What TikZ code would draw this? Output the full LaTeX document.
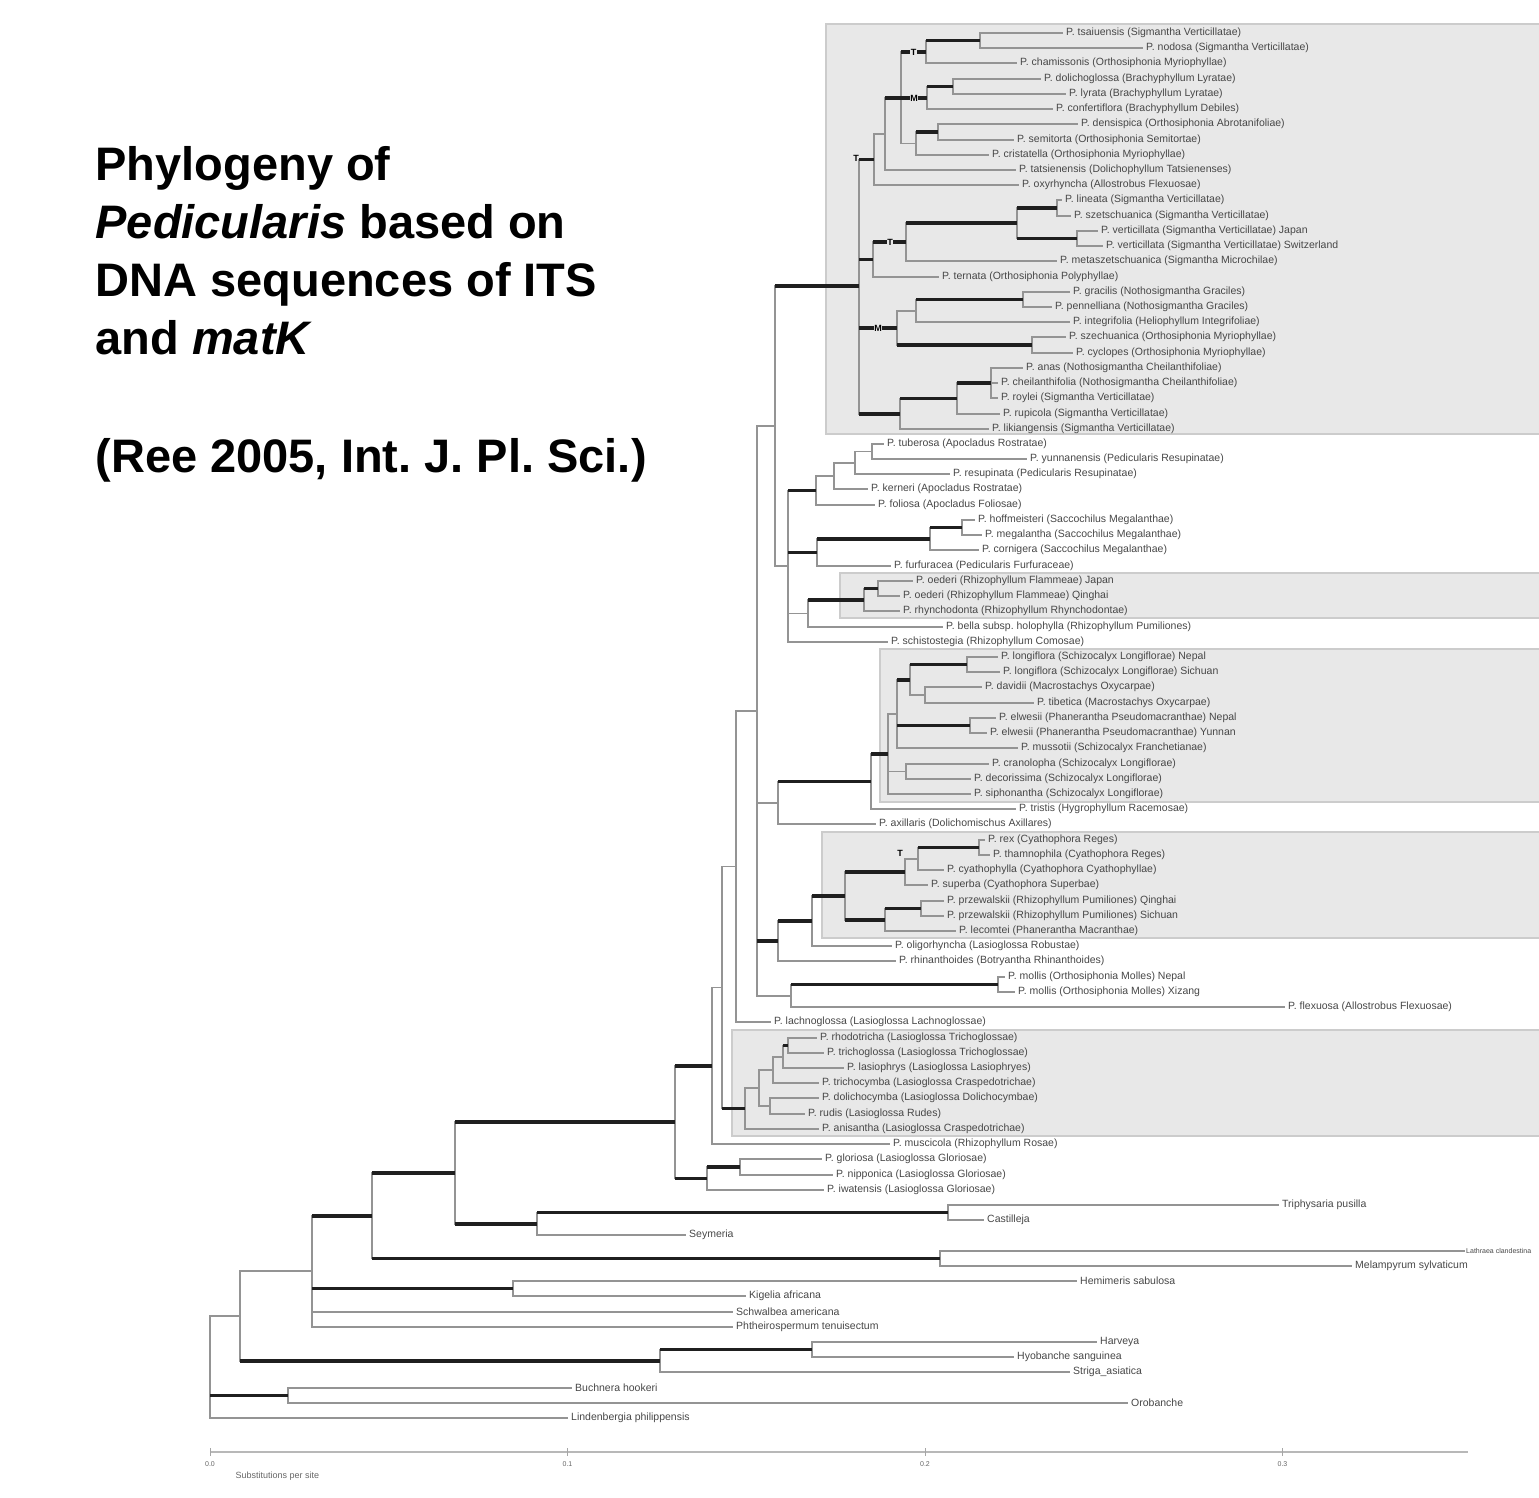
\documentclass[tikz,border=0pt]{standalone}
\usepackage{fontspec}
\setmainfont{Liberation Sans}
\usepackage{tikz}
\frenchspacing
\newcommand{\hbr}[3][branch]{\draw[#1] (#2 |- #3) -- (#3);}
\newcommand{\vbr}[3]{\draw[branch] (#1 |- #2) -- (#1 |- #3);}

\begin{document}
\begin{tikzpicture}[x=1pt,y=-1pt,
  branch/.style={draw=black!42,line width=1.3pt,line cap=rect},
  strong/.style={draw=black!88,line width=3.4pt},
  leaf/.style={anchor=west,inner xsep=4pt,inner ysep=1pt,text=black!72,font=\fontsize{10.5}{12}\selectfont},
  clade/.style={fill=black!9,draw=black!20,line width=1.5pt},
  supp/.style={fill=black!9,inner sep=0.6pt,font=\bfseries\fontsize{9}{10}\selectfont},
  headline/.style={anchor=base west,font=\bfseries\fontsize{47}{56}\selectfont},
  tick/.style={text=black!60,font=\fontsize{7}{8}\selectfont}]
\useasboundingbox (0,0) rectangle (1539,1497);
\draw[clade] (826,24) rectangle (1545,434);
\draw[clade] (840,573) rectangle (1545,618);
\draw[clade] (880,649) rectangle (1545,802);
\draw[clade] (822,832) rectangle (1545,938);
\draw[clade] (732,1030) rectangle (1545,1136);

\node[headline] (ttl1) at (92,180) {Phylogeny of};
\node[headline] (ttl2) at (92,238) {\textit{Pedicularis} based on};
\node[headline] (ttl3) at (92,296) {DNA sequences of ITS};
\node[headline] (ttl4) at (92,354) {and \textit{matK}};
\node[headline] (ttl5) at (92,472) {(Ree 2005, Int. J. Pl. Sci.)};

\node[leaf] (p00) at (1062,33) {P. tsaiuensis (Sigmantha Verticillatae)};
\node[leaf] (p01) at (1142,48) {P. nodosa (Sigmantha Verticillatae)};
\node[leaf] (p02) at (1016,63) {P. chamissonis (Orthosiphonia Myriophyllae)};
\node[leaf] (p03) at (1040,79) {P. dolichoglossa (Brachyphyllum Lyratae)};
\node[leaf] (p04) at (1065,94) {P. lyrata (Brachyphyllum Lyratae)};
\node[leaf] (p05) at (1052,109) {P. confertiflora (Brachyphyllum Debiles)};
\node[leaf] (p06) at (1077,124) {P. densispica (Orthosiphonia Abrotanifoliae)};
\node[leaf] (p07) at (1013,140) {P. semitorta (Orthosiphonia Semitortae)};
\node[leaf] (p08) at (988,155) {P. cristatella (Orthosiphonia Myriophyllae)};
\node[leaf] (p09) at (1015,170) {P. tatsienensis (Dolichophyllum Tatsienenses)};
\node[leaf] (p10) at (1018,185) {P. oxyrhyncha (Allostrobus Flexuosae)};
\node[leaf] (p11) at (1061,200) {P. lineata (Sigmantha Verticillatae)};
\node[leaf] (p12) at (1070,216) {P. szetschuanica (Sigmantha Verticillatae)};
\node[leaf] (p13) at (1097,231) {P. verticillata (Sigmantha Verticillatae) Japan};
\node[leaf] (p14) at (1102,246) {P. verticillata (Sigmantha Verticillatae) Switzerland};
\node[leaf] (p15) at (1056,261) {P. metaszetschuanica (Sigmantha Microchilae)};
\node[leaf] (p16) at (938,277) {P. ternata (Orthosiphonia Polyphyllae)};
\node[leaf] (p17) at (1069,292) {P. gracilis (Nothosigmantha Graciles)};
\node[leaf] (p18) at (1051,307) {P. pennelliana (Nothosigmantha Graciles)};
\node[leaf] (p19) at (1069,322) {P. integrifolia (Heliophyllum Integrifoliae)};
\node[leaf] (p20) at (1065,337) {P. szechuanica (Orthosiphonia Myriophyllae)};
\node[leaf] (p21) at (1072,353) {P. cyclopes (Orthosiphonia Myriophyllae)};
\node[leaf] (p22) at (1022,368) {P. anas (Nothosigmantha Cheilanthifoliae)};
\node[leaf] (p23) at (997,383) {P. cheilanthifolia (Nothosigmantha Cheilanthifoliae)};
\node[leaf] (p24) at (997,398) {P. roylei (Sigmantha Verticillatae)};
\node[leaf] (p25) at (999,414) {P. rupicola (Sigmantha Verticillatae)};
\node[leaf] (p26) at (988,429) {P. likiangensis (Sigmantha Verticillatae)};
\node[leaf] (p27) at (883,444) {P. tuberosa (Apocladus Rostratae)};
\node[leaf] (p28) at (1026,459) {P. yunnanensis (Pedicularis Resupinatae)};
\node[leaf] (p29) at (949,474) {P. resupinata (Pedicularis Resupinatae)};
\node[leaf] (p30) at (867,489) {P. kerneri (Apocladus Rostratae)};
\node[leaf] (p31) at (874,505) {P. foliosa (Apocladus Foliosae)};
\node[leaf] (p32) at (974,520) {P. hoffmeisteri (Saccochilus Megalanthae)};
\node[leaf] (p33) at (981,535) {P. megalantha (Saccochilus Megalanthae)};
\node[leaf] (p34) at (978,550) {P. cornigera (Saccochilus Megalanthae)};
\node[leaf] (p35) at (890,566) {P. furfuracea (Pedicularis Furfuraceae)};
\node[leaf] (p36) at (912,581) {P. oederi (Rhizophyllum Flammeae) Japan};
\node[leaf] (p37) at (899,596) {P. oederi (Rhizophyllum Flammeae) Qinghai};
\node[leaf] (p38) at (899,611) {P. rhynchodonta (Rhizophyllum Rhynchodontae)};
\node[leaf] (p39) at (942,627) {P. bella subsp. holophylla (Rhizophyllum Pumiliones)};
\node[leaf] (p40) at (887,642) {P. schistostegia (Rhizophyllum Comosae)};
\node[leaf] (p41) at (997,657) {P. longiflora (Schizocalyx Longiflorae) Nepal};
\node[leaf] (p42) at (999,672) {P. longiflora (Schizocalyx Longiflorae) Sichuan};
\node[leaf] (p43) at (981,687) {P. davidii (Macrostachys Oxycarpae)};
\node[leaf] (p44) at (1033,703) {P. tibetica (Macrostachys Oxycarpae)};
\node[leaf] (p45) at (995,718) {P. elwesii (Phanerantha Pseudomacranthae) Nepal};
\node[leaf] (p46) at (986,733) {P. elwesii (Phanerantha Pseudomacranthae) Yunnan};
\node[leaf] (p47) at (1017,748) {P. mussotii (Schizocalyx Franchetianae)};
\node[leaf] (p48) at (988,764) {P. cranolopha (Schizocalyx Longiflorae)};
\node[leaf] (p49) at (970,779) {P. decorissima (Schizocalyx Longiflorae)};
\node[leaf] (p50) at (970,794) {P. siphonantha (Schizocalyx Longiflorae)};
\node[leaf] (p51) at (1015,809) {P. tristis (Hygrophyllum Racemosae)};
\node[leaf] (p52) at (875,824) {P. axillaris (Dolichomischus Axillares)};
\node[leaf] (p53) at (984,840) {P. rex (Cyathophora Reges)};
\node[leaf] (p54) at (989,855) {P. thamnophila (Cyathophora Reges)};
\node[leaf] (p55) at (943,870) {P. cyathophylla (Cyathophora Cyathophyllae)};
\node[leaf] (p56) at (927,885) {P. superba (Cyathophora Superbae)};
\node[leaf] (p57) at (943,901) {P. przewalskii (Rhizophyllum Pumiliones) Qinghai};
\node[leaf] (p58) at (943,916) {P. przewalskii (Rhizophyllum Pumiliones) Sichuan};
\node[leaf] (p59) at (955,931) {P. lecomtei (Phanerantha Macranthae)};
\node[leaf] (p60) at (891,946) {P. oligorhyncha (Lasioglossa Robustae)};
\node[leaf] (p61) at (895,961) {P. rhinanthoides (Botryantha Rhinanthoides)};
\node[leaf] (p62) at (1004,977) {P. mollis (Orthosiphonia Molles) Nepal};
\node[leaf] (p63) at (1014,992) {P. mollis (Orthosiphonia Molles) Xizang};
\node[leaf] (p64) at (1284,1007) {P. flexuosa (Allostrobus Flexuosae)};
\node[leaf] (p65) at (770,1022) {P. lachnoglossa (Lasioglossa Lachnoglossae)};
\node[leaf] (p66) at (816,1038) {P. rhodotricha (Lasioglossa Trichoglossae)};
\node[leaf] (p67) at (823,1053) {P. trichoglossa (Lasioglossa Trichoglossae)};
\node[leaf] (p68) at (843,1068) {P. lasiophrys (Lasioglossa Lasiophryes)};
\node[leaf] (p69) at (818,1083) {P. trichocymba (Lasioglossa Craspedotrichae)};
\node[leaf] (p70) at (818,1098) {P. dolichocymba (Lasioglossa Dolichocymbae)};
\node[leaf] (p71) at (804,1114) {P. rudis (Lasioglossa Rudes)};
\node[leaf] (p72) at (818,1129) {P. anisantha (Lasioglossa Craspedotrichae)};
\node[leaf] (p73) at (889,1144) {P. muscicola (Rhizophyllum Rosae)};
\node[leaf] (p74) at (821,1159) {P. gloriosa (Lasioglossa Gloriosae)};
\node[leaf] (p75) at (832,1175) {P. nipponica (Lasioglossa Gloriosae)};
\node[leaf] (p76) at (823,1190) {P. iwatensis (Lasioglossa Gloriosae)};
\node[leaf] (p77) at (1278,1205) {Triphysaria pusilla};
\node[leaf] (p78) at (983,1220) {Castilleja};
\node[leaf] (p79) at (685,1235) {Seymeria};
\node[leaf,inner xsep=2pt,font=\fontsize{7}{8}\selectfont] (p80) at (1464,1251) {Lathraea clandestina};
\node[leaf] (p81) at (1351,1266) {Melampyrum sylvaticum};
\node[leaf] (p82) at (1076,1281) {Hemimeris sabulosa};
\node[leaf] (p83) at (745,1296) {Kigelia africana};
\node[leaf] (p84) at (732,1312) {Schwalbea americana};
\node[leaf] (p85) at (732,1327) {Phtheirospermum tenuisectum};
\node[leaf] (p86) at (1096,1342) {Harveya};
\node[leaf] (p87) at (1013,1357) {Hyobanche sanguinea};
\node[leaf] (p88) at (1069,1372) {Striga\_asiatica};
\node[leaf] (p89) at (571,1388) {Buchnera hookeri};
\node[leaf] (p90) at (1127,1403) {Orobanche};
\node[leaf] (p91) at (567,1418) {Lindenbergia philippensis};

\coordinate (t01) at (980,40.5);
\coordinate (t02) at (926,52);
\coordinate (t03) at (953,86.5);
\coordinate (t04) at (927,98);
\coordinate (t05) at (938,132);
\coordinate (t06) at (916,143.5);
\coordinate (t07) at (901,98);
\coordinate (t08) at (885,134);
\coordinate (t09) at (874,159.5);
\coordinate (t10) at (1057,208);
\coordinate (t11) at (1077,238.5);
\coordinate (t12) at (1017,223);
\coordinate (t13) at (906,242);
\coordinate (t14) at (873,259.5);
\coordinate (t15) at (1023,299.5);
\coordinate (t16) at (916,311);
\coordinate (t17) at (1032,345);
\coordinate (t18) at (897,328);
\coordinate (t19) at (991,383);
\coordinate (t20) at (957,398.5);
\coordinate (t21) at (900,414);
\coordinate (t22) at (859,286);
\coordinate (m01) at (872,451.5);
\coordinate (m02) at (855,463);
\coordinate (m03) at (834,476);
\coordinate (m04) at (816,490.5);
\coordinate (m05) at (962,527.5);
\coordinate (m06) at (930,539);
\coordinate (m07) at (817,552.5);
\coordinate (m08) at (878,588.5);
\coordinate (m09) at (864,600);
\coordinate (m10) at (808,613.5);
\coordinate (m11) at (788,566);
\coordinate (m12) at (775,426);
\coordinate (c01) at (967,664.5);
\coordinate (c02) at (925,695);
\coordinate (c03) at (910,680);
\coordinate (c04) at (970,725.5);
\coordinate (c05) at (897,714);
\coordinate (c06) at (906,771.5);
\coordinate (c07) at (888,754);
\coordinate (c08) at (871,781.5);
\coordinate (c09) at (778,803);
\coordinate (d01) at (979,847.5);
\coordinate (d02) at (918,859);
\coordinate (d03) at (905,872);
\coordinate (d04) at (921,908.5);
\coordinate (d05) at (885,920);
\coordinate (d06) at (845,896);
\coordinate (d07) at (812,921);
\coordinate (d08) at (778,941);
\coordinate (d09) at (998,984.5);
\coordinate (d10) at (791,996);
\coordinate (d11) at (757,711);
\coordinate (d12) at (736,866.5);
\coordinate (e01) at (788,1045.5);
\coordinate (e02) at (783,1057);
\coordinate (e03) at (773,1070);
\coordinate (e04) at (770,1106);
\coordinate (e05) at (759,1088);
\coordinate (e06) at (745,1108.5);
\coordinate (e07) at (722,987.5);
\coordinate (e08) at (712,1066);
\coordinate (e09) at (740,1167);
\coordinate (e10) at (707,1178.5);
\coordinate (e11) at (675,1122);
\coordinate (o01) at (948,1212.5);
\coordinate (o02) at (537,1224);
\coordinate (o03) at (455,1173);
\coordinate (o04) at (940,1258.5);
\coordinate (o05) at (372,1216);
\coordinate (o06) at (513,1288.5);
\coordinate (o07) at (312,1271);
\coordinate (o08) at (812,1349.5);
\coordinate (o09) at (660,1361);
\coordinate (o10) at (240,1316);
\coordinate (o11) at (288,1395.5);
\coordinate (root) at (210,1367);

\vbr{t01}{p00}{p01} \vbr{t02}{t01}{p02} \vbr{t03}{p03}{p04} \vbr{t04}{t03}{p05}
\vbr{t05}{p06}{p07} \vbr{t06}{t05}{p08} \vbr{t07}{t02}{t06} \vbr{t08}{t07}{p09}
\vbr{t09}{t08}{p10} \vbr{t10}{p11}{p12} \vbr{t11}{p13}{p14} \vbr{t12}{t10}{t11}
\vbr{t13}{t12}{p15} \vbr{t14}{t13}{p16} \vbr{t15}{p17}{p18} \vbr{t16}{t15}{p19}
\vbr{t17}{p20}{p21} \vbr{t18}{t16}{t17} \vbr{t19}{p22}{p24} \vbr{t20}{t19}{p25}
\vbr{t21}{t20}{p26} \vbr{t22}{t09}{t21}
\vbr{m01}{p27}{p28} \vbr{m02}{m01}{p29} \vbr{m03}{m02}{p30} \vbr{m04}{m03}{p31}
\vbr{m05}{p32}{p33} \vbr{m06}{m05}{p34} \vbr{m07}{m06}{p35} \vbr{m08}{p36}{p37}
\vbr{m09}{m08}{p38} \vbr{m10}{m09}{p39} \vbr{m11}{m04}{p40} \vbr{m12}{t22}{m11}
\vbr{c01}{p41}{p42} \vbr{c02}{p43}{p44} \vbr{c03}{c01}{c02} \vbr{c04}{p45}{p46}
\vbr{c05}{c03}{p47} \vbr{c06}{p48}{p49} \vbr{c07}{c05}{p50} \vbr{c08}{c07}{p51}
\vbr{c09}{c08}{p52}
\vbr{d01}{p53}{p54} \vbr{d02}{d01}{p55} \vbr{d03}{d02}{p56} \vbr{d04}{p57}{p58}
\vbr{d05}{d04}{p59} \vbr{d06}{d03}{d05} \vbr{d07}{d06}{p60} \vbr{d08}{d07}{p61}
\vbr{d09}{p62}{p63} \vbr{d10}{d09}{p64} \vbr{d11}{m12}{d10} \vbr{d12}{d11}{p65}
\vbr{e01}{p66}{p67} \vbr{e02}{e01}{p68} \vbr{e03}{e02}{p69} \vbr{e04}{p70}{p71}
\vbr{e05}{e03}{e04} \vbr{e06}{e05}{p72} \vbr{e07}{d12}{e06} \vbr{e08}{e07}{p73}
\vbr{e09}{p74}{p75} \vbr{e10}{e09}{p76} \vbr{e11}{e08}{e10}
\vbr{o01}{p77}{p78} \vbr{o02}{o01}{p79} \vbr{o03}{e11}{o02} \vbr{o04}{p80}{p81}
\vbr{o05}{o03}{o04} \vbr{o06}{p82}{p83} \vbr{o07}{o05}{p85} \vbr{o08}{p86}{p87}
\vbr{o09}{o08}{p88} \vbr{o10}{o07}{o09} \vbr{o11}{p89}{p90} \vbr{root}{o10}{p91}

\hbr{t01}{p00.west} \hbr{t01}{p01.west}
\hbr[strong]{t02}{t01} \hbr{t02}{p02.west}
\hbr{t03}{p03.west} \hbr{t03}{p04.west}
\hbr[strong]{t04}{t03} \hbr{t04}{p05.west}
\hbr{t05}{p06.west} \hbr{t05}{p07.west}
\hbr[strong]{t06}{t05} \hbr{t06}{p08.west}
\hbr[strong]{t07}{t02} \hbr[strong]{t07}{t04} \hbr{t07}{t06}
\hbr[strong]{t08}{t07} \hbr{t08}{p09.west}
\hbr{t09}{t08} \hbr{t09}{p10.west}
\hbr{t10}{p11.west} \hbr{t10}{p12.west}
\hbr{t11}{p13.west} \hbr{t11}{p14.west}
\hbr[strong]{t12}{t10} \hbr[strong]{t12}{t11}
\hbr[strong]{t13}{t12} \hbr{t13}{p15.west}
\hbr[strong]{t14}{t13} \hbr{t14}{p16.west}
\hbr{t15}{p17.west} \hbr{t15}{p18.west}
\hbr[strong]{t16}{t15} \hbr{t16}{p19.west}
\hbr{t17}{p20.west} \hbr{t17}{p21.west}
\hbr{t18}{t16} \hbr[strong]{t18}{t17}
\hbr{t19}{p22.west} \hbr{t19}{p23.west} \hbr{t19}{p24.west}
\hbr[strong]{t20}{t19} \hbr{t20}{p25.west}
\hbr[strong]{t21}{t20} \hbr{t21}{p26.west}
\hbr[strong]{t22}{t09} \hbr[strong]{t22}{t14} \hbr[strong]{t22}{t18} \hbr[strong]{t22}{t21}
\hbr{m01}{p27.west} \hbr{m01}{p28.west}
\hbr{m02}{m01} \hbr{m02}{p29.west}
\hbr{m03}{m02} \hbr{m03}{p30.west}
\hbr{m04}{m03} \hbr{m04}{p31.west}
\hbr{m05}{p32.west} \hbr{m05}{p33.west}
\hbr[strong]{m06}{m05} \hbr{m06}{p34.west}
\hbr[strong]{m07}{m06} \hbr{m07}{p35.west}
\hbr{m08}{p36.west} \hbr{m08}{p37.west}
\hbr[strong]{m09}{m08} \hbr{m09}{p38.west}
\hbr[strong]{m10}{m09} \hbr{m10}{p39.west}
\hbr[strong]{m11}{m04} \hbr[strong]{m11}{m07} \hbr{m11}{m10} \hbr{m11}{p40.west}
\hbr[strong]{m12}{t22} \hbr{m12}{m11}
\hbr{c01}{p41.west} \hbr{c01}{p42.west}
\hbr{c02}{p43.west} \hbr{c02}{p44.west}
\hbr[strong]{c03}{c01} \hbr{c03}{c02}
\hbr{c04}{p45.west} \hbr{c04}{p46.west}
\hbr[strong]{c05}{c03} \hbr[strong]{c05}{c04} \hbr{c05}{p47.west}
\hbr{c06}{p48.west} \hbr{c06}{p49.west}
\hbr{c07}{c05} \hbr{c07}{c06} \hbr{c07}{p50.west}
\hbr[strong]{c08}{c07} \hbr{c08}{p51.west}
\hbr[strong]{c09}{c08} \hbr{c09}{p52.west}
\hbr{d01}{p53.west} \hbr{d01}{p54.west}
\hbr[strong]{d02}{d01} \hbr{d02}{p55.west}
\hbr{d03}{d02} \hbr{d03}{p56.west}
\hbr{d04}{p57.west} \hbr{d04}{p58.west}
\hbr[strong]{d05}{d04} \hbr{d05}{p59.west}
\hbr[strong]{d06}{d03} \hbr[strong]{d06}{d05}
\hbr[strong]{d07}{d06} \hbr{d07}{p60.west}
\hbr[strong]{d08}{d07} \hbr{d08}{p61.west}
\hbr{d09}{p62.west} \hbr{d09}{p63.west}
\hbr[strong]{d10}{d09} \hbr{d10}{p64.west}
\hbr{d11}{m12} \hbr{d11}{c09} \hbr[strong]{d11}{d08} \hbr{d11}{d10}
\hbr{d12}{d11} \hbr{d12}{p65.west}
\hbr{e01}{p66.west} \hbr{e01}{p67.west}
\hbr[strong]{e02}{e01} \hbr{e02}{p68.west}
\hbr{e03}{e02} \hbr{e03}{p69.west}
\hbr{e04}{p70.west} \hbr{e04}{p71.west}
\hbr{e05}{e03} \hbr{e05}{e04}
\hbr{e06}{e05} \hbr{e06}{p72.west}
\hbr{e07}{d12} \hbr[strong]{e07}{e06}
\hbr{e08}{e07} \hbr{e08}{p73.west}
\hbr{e09}{p74.west} \hbr{e09}{p75.west}
\hbr[strong]{e10}{e09} \hbr{e10}{p76.west}
\hbr[strong]{e11}{e08} \hbr[strong]{e11}{e10}
\hbr{o01}{p77.west} \hbr{o01}{p78.west}
\hbr[strong]{o02}{o01} \hbr{o02}{p79.west}
\hbr[strong]{o03}{e11} \hbr[strong]{o03}{o02}
\hbr{o04}{p80.west} \hbr{o04}{p81.west}
\hbr[strong]{o05}{o03} \hbr[strong]{o05}{o04}
\hbr{o06}{p82.west} \hbr{o06}{p83.west}
\hbr[strong]{o07}{o05} \hbr[strong]{o07}{o06} \hbr{o07}{p84.west} \hbr{o07}{p85.west}
\hbr{o08}{p86.west} \hbr{o08}{p87.west}
\hbr[strong]{o09}{o08} \hbr{o09}{p88.west}
\hbr{o10}{o07} \hbr[strong]{o10}{o09}
\hbr{o11}{p89.west} \hbr{o11}{p90.west}
\hbr{root}{o10} \hbr[strong]{root}{o11} \hbr{root}{p91.west}

\node[supp] (s1) at (913.5,52) {T};
\node[supp] (s2) at (914,98) {M};
\node[supp,fill=none] (s3) at (856,158) {T};
\node[supp] (s4) at (890,242) {T};
\node[supp] (s5) at (878,328) {M};
\node[supp,fill=none] (s6) at (900,853) {T};

\draw[draw=black!28,line width=2pt] (210,1452) -- (1468,1452);
\foreach \t/\lab [count=\k] in {210/0.0,567.5/0.1,925/0.2,1282.5/0.3} {
  \draw[black!35,line width=1pt] (\t,1448) -- (\t,1456);
  \node[tick] (tk\k) at (\t,1464) {\lab};
}
\node[tick,anchor=west,font=\fontsize{9}{10}\selectfont] (unit) at (232,1476) {Substitutions per site};
\end{tikzpicture}
\end{document}
